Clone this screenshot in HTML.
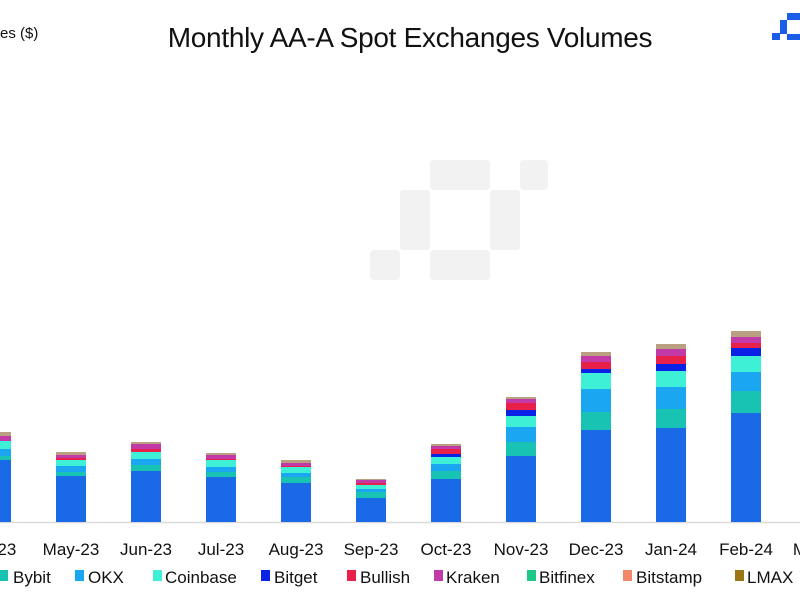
<!DOCTYPE html>
<html><head><meta charset="utf-8"><style>
body{margin:0;background:#fff;}
svg{display:block;font-family:"Liberation Sans",sans-serif;}
</style></head><body>
<svg width="800" height="600" xmlns="http://www.w3.org/2000/svg">
<rect width="800" height="600" fill="#fff"/>
<g fill="#f2f2f2">
<rect x="430" y="160" width="60" height="30" rx="4"/>
<rect x="520" y="160" width="28" height="30" rx="4"/>
<rect x="400" y="190" width="30" height="60" rx="3"/>
<rect x="490" y="190" width="30" height="60" rx="3"/>
<rect x="430" y="250" width="60" height="30" rx="4"/>
<rect x="370" y="250" width="30" height="30" rx="4"/>
</g>
<text x="0" y="38" font-size="15" fill="#111">es ($)</text>
<text x="410" y="47" font-size="28" text-anchor="middle" fill="#111" letter-spacing="-0.3">Monthly AA-A Spot Exchanges Volumes</text>
<g fill="#1a5ee8">
<rect x="787" y="13" width="13" height="7"/><rect x="780" y="20" width="7" height="14"/><rect x="772" y="33" width="8" height="7"/><rect x="787" y="34" width="13" height="6"/>
</g>
<line x1="0" y1="522.5" x2="800" y2="522.5" stroke="#d9d9d9" stroke-width="1.5"/>
<g>
<rect x="-19" y="460" width="30" height="62" fill="#1a6ae8"/><rect x="-19" y="456" width="30" height="4" fill="#19c3b4"/><rect x="-19" y="449" width="30" height="7" fill="#1aa6f0"/><rect x="-19" y="441" width="30" height="8" fill="#3ef0d6"/><rect x="-19" y="436" width="30" height="5" fill="#c23aa8"/><rect x="-19" y="432" width="30" height="4" fill="#b8a080"/>
<rect x="56" y="476" width="30" height="46" fill="#1a6ae8"/><rect x="56" y="472" width="30" height="4" fill="#19c3b4"/><rect x="56" y="466" width="30" height="6" fill="#1aa6f0"/><rect x="56" y="460" width="30" height="6" fill="#3ef0d6"/><rect x="56" y="458" width="30" height="2" fill="#e8204a"/><rect x="56" y="455" width="30" height="3" fill="#c23aa8"/><rect x="56" y="452" width="30" height="3" fill="#b8a080"/>
<rect x="131" y="471" width="30" height="51" fill="#1a6ae8"/><rect x="131" y="465" width="30" height="6" fill="#19c3b4"/><rect x="131" y="459" width="30" height="6" fill="#1aa6f0"/><rect x="131" y="452" width="30" height="7" fill="#3ef0d6"/><rect x="131" y="449" width="30" height="3" fill="#e8204a"/><rect x="131" y="444" width="30" height="5" fill="#c23aa8"/><rect x="131" y="442" width="30" height="2" fill="#b8a080"/>
<rect x="206" y="477" width="30" height="45" fill="#1a6ae8"/><rect x="206" y="472" width="30" height="5" fill="#19c3b4"/><rect x="206" y="467" width="30" height="5" fill="#1aa6f0"/><rect x="206" y="460" width="30" height="7" fill="#3ef0d6"/><rect x="206" y="459" width="30" height="1" fill="#e8204a"/><rect x="206" y="455" width="30" height="4" fill="#c23aa8"/><rect x="206" y="453" width="30" height="2" fill="#b8a080"/>
<rect x="281" y="483" width="30" height="39" fill="#1a6ae8"/><rect x="281" y="477" width="30" height="6" fill="#19c3b4"/><rect x="281" y="473" width="30" height="4" fill="#1aa6f0"/><rect x="281" y="467" width="30" height="6" fill="#3ef0d6"/><rect x="281" y="466" width="30" height="1" fill="#e8204a"/><rect x="281" y="463" width="30" height="3" fill="#c23aa8"/><rect x="281" y="460" width="30" height="3" fill="#b8a080"/>
<rect x="356" y="498" width="30" height="24" fill="#1a6ae8"/><rect x="356" y="492" width="30" height="6" fill="#19c3b4"/><rect x="356" y="489" width="30" height="3" fill="#1aa6f0"/><rect x="356" y="485" width="30" height="4" fill="#3ef0d6"/><rect x="356" y="483" width="30" height="2" fill="#e8204a"/><rect x="356" y="480" width="30" height="3" fill="#c23aa8"/><rect x="356" y="479" width="30" height="1" fill="#b8a080"/>
<rect x="431" y="479" width="30" height="43" fill="#1a6ae8"/><rect x="431" y="471" width="30" height="8" fill="#19c3b4"/><rect x="431" y="464" width="30" height="7" fill="#1aa6f0"/><rect x="431" y="457" width="30" height="7" fill="#3ef0d6"/><rect x="431" y="454" width="30" height="3" fill="#0a22e6"/><rect x="431" y="449" width="30" height="5" fill="#e8204a"/><rect x="431" y="446" width="30" height="3" fill="#c23aa8"/><rect x="431" y="444" width="30" height="2" fill="#b8a080"/>
<rect x="506" y="456" width="30" height="66" fill="#1a6ae8"/><rect x="506" y="442" width="30" height="14" fill="#19c3b4"/><rect x="506" y="427" width="30" height="15" fill="#1aa6f0"/><rect x="506" y="416" width="30" height="11" fill="#3ef0d6"/><rect x="506" y="410" width="30" height="6" fill="#0a22e6"/><rect x="506" y="403" width="30" height="7" fill="#e8204a"/><rect x="506" y="399" width="30" height="4" fill="#c23aa8"/><rect x="506" y="397" width="30" height="2" fill="#b8a080"/>
<rect x="581" y="430" width="30" height="92" fill="#1a6ae8"/><rect x="581" y="412" width="30" height="18" fill="#19c3b4"/><rect x="581" y="389" width="30" height="23" fill="#1aa6f0"/><rect x="581" y="373" width="30" height="16" fill="#3ef0d6"/><rect x="581" y="369" width="30" height="4" fill="#0a22e6"/><rect x="581" y="362" width="30" height="7" fill="#e8204a"/><rect x="581" y="356" width="30" height="6" fill="#c23aa8"/><rect x="581" y="352" width="30" height="4" fill="#b8a080"/>
<rect x="656" y="428" width="30" height="94" fill="#1a6ae8"/><rect x="656" y="409" width="30" height="19" fill="#19c3b4"/><rect x="656" y="387" width="30" height="22" fill="#1aa6f0"/><rect x="656" y="371" width="30" height="16" fill="#3ef0d6"/><rect x="656" y="364" width="30" height="7" fill="#0a22e6"/><rect x="656" y="356" width="30" height="8" fill="#e8204a"/><rect x="656" y="349" width="30" height="7" fill="#c23aa8"/><rect x="656" y="344" width="30" height="5" fill="#b8a080"/>
<rect x="731" y="413" width="30" height="109" fill="#1a6ae8"/><rect x="731" y="391" width="30" height="22" fill="#19c3b4"/><rect x="731" y="372" width="30" height="19" fill="#1aa6f0"/><rect x="731" y="356" width="30" height="16" fill="#3ef0d6"/><rect x="731" y="348" width="30" height="8" fill="#0a22e6"/><rect x="731" y="343" width="30" height="5" fill="#e8204a"/><rect x="731" y="337" width="30" height="6" fill="#c23aa8"/><rect x="731" y="331" width="30" height="6" fill="#b8a080"/>
</g>
<g font-size="17" fill="#111" text-anchor="middle">
<text x="4" y="555">-23</text>
<text x="71" y="555">May-23</text><text x="146" y="555">Jun-23</text><text x="221" y="555">Jul-23</text><text x="296" y="555">Aug-23</text><text x="371" y="555">Sep-23</text><text x="446" y="555">Oct-23</text><text x="521" y="555">Nov-23</text><text x="596" y="555">Dec-23</text><text x="671" y="555">Jan-24</text><text x="746" y="555">Feb-24</text><text x="800" y="555">M</text>
</g>
<g font-size="17" fill="#111">
<rect x="0" y="570" width="8" height="11" fill="#19c3b4"/><text x="13" y="583">Bybit</text>
<rect x="75" y="570" width="9" height="11" fill="#1aa6f0"/><text x="88" y="583">OKX</text>
<rect x="153" y="570" width="9" height="11" fill="#3ef0d6"/><text x="165" y="583">Coinbase</text>
<rect x="261" y="570" width="9" height="11" fill="#0a22e6"/><text x="274" y="583">Bitget</text>
<rect x="347" y="570" width="9" height="11" fill="#e8204a"/><text x="360" y="583">Bullish</text>
<rect x="434" y="570" width="9" height="11" fill="#c23aa8"/><text x="446" y="583">Kraken</text>
<rect x="527" y="570" width="9" height="11" fill="#1dc98a"/><text x="539" y="583">Bitfinex</text>
<rect x="623" y="570" width="9" height="11" fill="#f4876a"/><text x="636" y="583">Bitstamp</text>
<rect x="735" y="570" width="9" height="11" fill="#9a7614"/><text x="747" y="583">LMAX</text>
</g>
</svg>
</body></html>
